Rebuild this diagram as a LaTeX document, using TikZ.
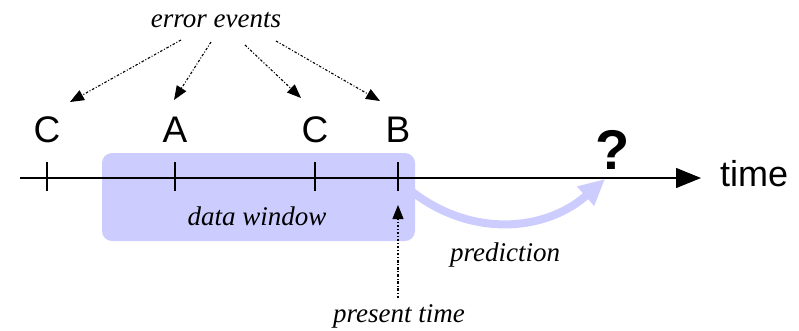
\documentclass[tikz,border=0pt]{standalone}
\usepackage{fontspec}
\setmainfont{Liberation Serif}
\setsansfont{Liberation Sans}
\usetikzlibrary{arrows.meta}
\definecolor{win}{HTML}{CCCCFF}
\begin{document}
\begin{tikzpicture}[x=1pt,y=-1pt,
  lbl/.style={font=\fontsize{27}{30}\selectfont\itshape, inner sep=0pt},
  evt/.style={font=\fontsize{37}{40}\sffamily\selectfont, inner sep=0pt},
  ptr/.style={line width=1.1pt, dash pattern=on 2.5pt off 1.8pt on 1pt off 1.8pt, -{Triangle[length=14pt,width=11pt]}},
  tick/.style={line width=1.2pt}]
\useasboundingbox (0,0) rectangle (799,330);
% data window
\node[fill=win, rounded corners=10pt, minimum width=313pt, minimum height=88pt, inner sep=0pt] (dw) at (258.5,197) {};
\node[lbl] (dwt) at (257,216) {data window};
% prediction arrow
\coordinate (ps) at (410,190);
\coordinate (pe) at (605,179);
\draw[win, line width=8pt, -{Triangle[length=26pt,width=24pt]}] (ps) .. controls (470,238) and (545,232) .. (pe);
\node[lbl] (pred) at (505,255) {prediction};
% axis
\coordinate (a0) at (20,178);
\node[inner sep=0pt, font=\fontsize{36}{40}\sffamily\selectfont, anchor=west] (time) at (720,174) {time};
\coordinate (a1) at (701,178);
\draw[line width=1.2pt, -{Triangle[length=25pt,width=20pt]}] (a0) -- (a1);
% ticks and labels
\foreach \n/\x/\t in {c1/47/C, a/175/A, c2/315/C, b/398/B}{
  \coordinate (t\n) at (\x,178);
  \draw[tick] (\x,162) -- (\x,191);
  \node[evt, anchor=base] (\n) at (\x,142) {\t};
}
\node[font=\fontsize{56}{60}\sffamily\bfseries\selectfont, inner sep=0pt, anchor=base] (q) at (613,169) {?};
% error events
\node[lbl] (ee) at (216,20) {error events};
\coordinate (s1) at (181,40); \coordinate (e1) at (70,102);
\coordinate (s2) at (211,42); \coordinate (e2) at (174,100);
\coordinate (s3) at (245,45); \coordinate (e3) at (301,98);
\coordinate (s4) at (276,41); \coordinate (e4) at (380,101);
\draw[ptr] (s1) -- (e1);
\draw[ptr] (s2) -- (e2);
\draw[ptr] (s3) -- (e3);
\draw[ptr] (s4) -- (e4);
% present time
\node[lbl] (pt) at (399,316) {present time};
\coordinate (pts) at (398,298);
\coordinate (pte) at (398,205);
\draw[ptr] (pts) -- (pte);
\end{tikzpicture}
\end{document}
